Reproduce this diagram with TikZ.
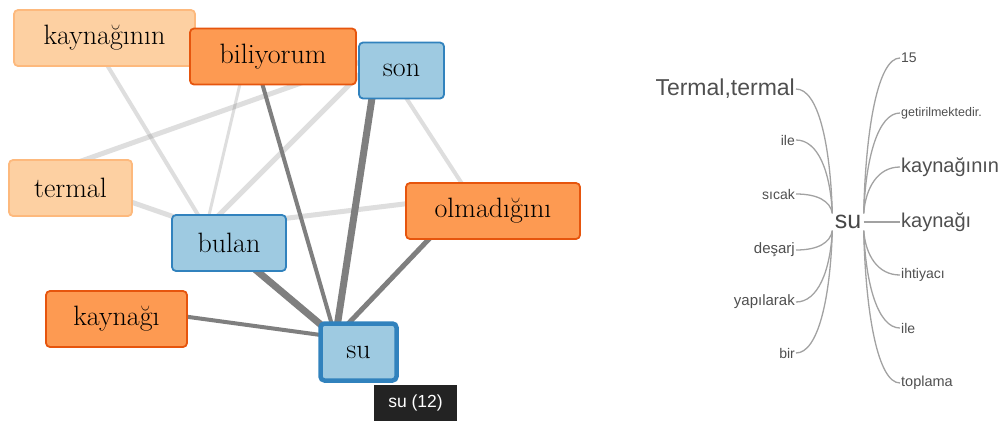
\documentclass[tikz,border=0pt]{standalone}
\usepackage{fontspec}
\setsansfont{Liberation Sans}
\usetikzlibrary{backgrounds}
\definecolor{palefill}{HTML}{FDD0A2}
\definecolor{paleline}{HTML}{FDB97D}
\definecolor{warmfill}{HTML}{FD9A52}
\definecolor{warmline}{HTML}{E6550D}
\definecolor{coolfill}{HTML}{9ECAE1}
\definecolor{coolline}{HTML}{3182BD}
\definecolor{linkgray}{HTML}{7F7F7F}
\definecolor{treegray}{HTML}{A2A2A2}
\definecolor{wordgray}{HTML}{4F4F4F}
\definecolor{tipfill}{HTML}{232323}

\begin{document}
\begin{tikzpicture}[
	x=1pt, y=-1pt,
	word/.style={rectangle, rounded corners=4pt, line width=1.8pt, inner sep=0pt,
		minimum height=56pt, font=\fontsize{28}{30}\selectfont},
	pale/.style={word, fill=palefill, draw=paleline},
	warm/.style={word, fill=warmfill, draw=warmline},
	cool/.style={word, fill=coolfill, draw=coolline},
	weak/.style={draw=linkgray, draw opacity=0.26, line width=#1},
	strong/.style={draw=linkgray, line width=#1},
	hub/.style={shift={(-23,-15)}},
	leaf/.style={inner sep=1pt, text=wordgray, font=\sffamily\fontsize{#1}{#1}\selectfont},
	leaf/.default=14,
	branch/.style={draw=treegray, line width=1.3pt},
]
\useasboundingbox (0,0) rectangle (1004,421);
% \link{style}{node}{node}: links meet a little up and left of the centre.
\def\link#1#2#3{
	\draw[#1] ([hub]#2.center) -- ([hub]#3.center);
}
% Input 1: height of the word, input 2: pull at su, input 3: north or south.
\def\leftleaf#1#2#3[#4](#5)#6{
	\node[leaf, anchor=east, #4] at (796,#1) (#5) {#6};
	\draw[branch] (#5.east) .. controls +(22,0) and +(-2,#2) .. (root.#3 west);
}
\def\rightleaf#1#2#3[#4](#5)#6{
	\node[leaf, anchor=west, #4] at (900,#1) (#5) {#6};
	\draw[branch] (root.#3 east) .. controls +(2,#2) and +(-22,0) .. (#5.west);
}
	% word graph
	\node[pale, minimum width=181pt] (kaynaginin) at (104.5,38) {kaynağının};
	\node[warm, minimum width=166pt] (biliyorum) at (273,56.5) {biliyorum};
	\node[cool, minimum width=85pt] (son) at (401.5,70.5) {son};
	\node[pale, minimum width=123pt] (termal) at (70.5,188) {termal};
	\node[warm, minimum width=174pt] (olmadigini) at (493,211) {olmadığını};
	\node[cool, minimum width=114pt] (bulan) at (229,243) {bulan};
	\node[warm, minimum width=141pt] (kaynagi) at (116.5,319) {kaynağı};
	\node[cool, line width=4.5pt, minimum width=76pt, minimum height=57pt] (su) at (358.5,352) {su};
	\node[fill=tipfill, text=white, inner sep=0pt, minimum width=83pt, minimum height=36pt,
		font=\sffamily\fontsize{17.5}{17.5}\selectfont] (tip) at (415.5,403) {su (12)};
	\begin{scope}[on background layer]
	\link{weak=4pt}{kaynaginin}{bulan}
	\link{weak=3pt}{biliyorum}{bulan}
	\link{weak=5pt}{termal}{son}
	\link{weak=5pt}{son}{bulan}
	\link{weak=4pt}{son}{olmadigini}
	\link{weak=5pt}{termal}{bulan}
	\link{weak=5pt}{bulan}{olmadigini}
	\link{strong=4pt}{biliyorum}{su}
	\link{strong=7pt}{son}{su}
	\link{strong=7pt}{bulan}{su}
	\link{strong=5pt}{olmadigini}{su}
	\link{strong=4pt}{kaynagi}{su}
	\end{scope}

	% word tree
	\node[leaf=25, inner sep=0pt, minimum width=31pt, minimum height=17pt, text=black!72] (root) at (848,222) {su};
	\leftleaf{89}{-70}{north}[leaf=23](termalL){Termal,termal}
	\leftleaf{140}{-42}{north}[leaf=14](ileL){ile}
	\leftleaf{194}{-12}{north}[leaf=14](sicakL){sıcak}
	\leftleaf{250}{12}{south}[leaf=15](desarjL){deşarj}
	\leftleaf{302}{40}{south}[leaf=15](yapilarakL){yapılarak}
	\leftleaf{353}{68}{south}[leaf=14](birL){bir}
	\rightleaf{58}{-85}{north}[leaf=14](onbesR){15}
	\rightleaf{113}{-55}{north}[leaf=12.5](getirilmektedirR){getirilmektedir.}
	\rightleaf{167}{-26}{north}[leaf=20](kayninR){kaynağının}
	\node[leaf=20, anchor=west] at (900,222) (kaynagiR) {kaynağı};
	\draw[branch] (root) -- (kaynagiR);
	\rightleaf{275}{25}{south}[leaf=14](ihtiyaciR){ihtiyacı}
	\rightleaf{328}{54}{south}[leaf=14](ileR){ile}
	\rightleaf{383}{84}{south}[leaf=14.5](toplamaR){toplama}
\end{tikzpicture}
\end{document}
